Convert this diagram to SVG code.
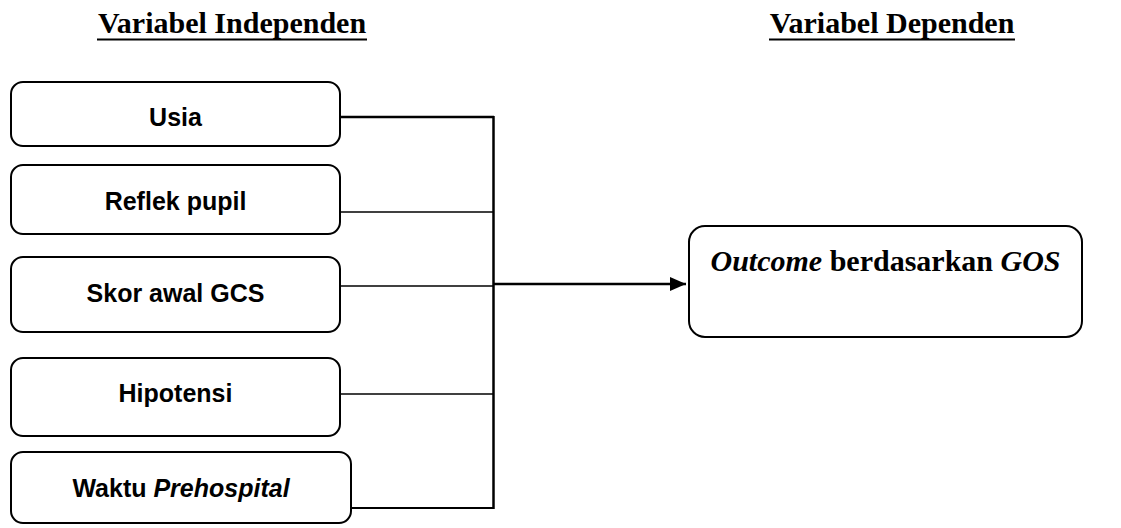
<svg xmlns="http://www.w3.org/2000/svg" width="1121" height="528" viewBox="0 0 1121 528">
<style>
.box{fill:#fff;stroke:#000;stroke-width:2}
.lbl{font-family:"Liberation Sans",Arial,sans-serif;font-weight:bold;font-size:25px;text-anchor:middle;fill:#000}
.hdr{font-family:"Liberation Serif","Times New Roman",serif;font-weight:bold;font-size:30px;text-anchor:middle;fill:#000}
.ln{stroke:#000;fill:none}
</style>
<defs>
<marker id="ah" viewBox="0 0 16 14" refX="16" refY="7" markerWidth="16" markerHeight="14" markerUnits="userSpaceOnUse" orient="auto">
<path d="M0,0 L16,7 L0,14 Z" fill="#000"/>
</marker>
</defs>
<g id="headers">
<text class="hdr" x="232" y="33">Variabel Independen</text>
<line class="ln" x1="97" y1="39.5" x2="367" y2="39.5" stroke-width="2.2"/>
<text class="hdr" x="892" y="33">Variabel Dependen</text>
<line class="ln" x1="769" y1="39.5" x2="1015" y2="39.5" stroke-width="2.2"/>
</g>
<g id="connectors">
<line class="ln" x1="340" y1="117" x2="494" y2="117" stroke-width="2.5"/>
<line class="ln" x1="340" y1="212" x2="493" y2="212" stroke-width="1.5"/>
<line class="ln" x1="340" y1="286" x2="493" y2="286" stroke-width="1.5"/>
<line class="ln" x1="340" y1="394" x2="493" y2="394" stroke-width="1.5"/>
<line class="ln" x1="351" y1="508" x2="494" y2="508" stroke-width="2"/>
<line class="ln" x1="493.5" y1="116" x2="493.5" y2="509" stroke-width="2.5"/>
<line class="ln" x1="493" y1="284" x2="686" y2="284" stroke-width="2.5" marker-end="url(#ah)"/>
</g>
<g id="usia">
<rect class="box" x="11" y="82" width="329" height="64" rx="12"/>
<text class="lbl" x="175.5" y="126">Usia</text>
</g>
<g id="reflek">
<rect class="box" x="11" y="165" width="329" height="69" rx="12"/>
<text class="lbl" x="175.5" y="210">Reflek pupil</text>
</g>
<g id="skor">
<rect class="box" x="11" y="257" width="329" height="75" rx="12"/>
<text class="lbl" x="175.5" y="302">Skor awal GCS</text>
</g>
<g id="hipotensi">
<rect class="box" x="11" y="358" width="329" height="78" rx="12"/>
<text class="lbl" x="175.5" y="402">Hipotensi</text>
</g>
<g id="waktu">
<rect class="box" x="11" y="452" width="340" height="71" rx="12"/>
<text class="lbl" x="181" y="497">Waktu <tspan font-style="italic">Prehospital</tspan></text>
</g>
<g id="outcome">
<rect class="box" x="689" y="226" width="393" height="111" rx="16"/>
<text class="hdr" x="885.5" y="271"><tspan font-style="italic">Outcome</tspan> berdasarkan <tspan font-style="italic">GOS</tspan></text>
</g>
</svg>
